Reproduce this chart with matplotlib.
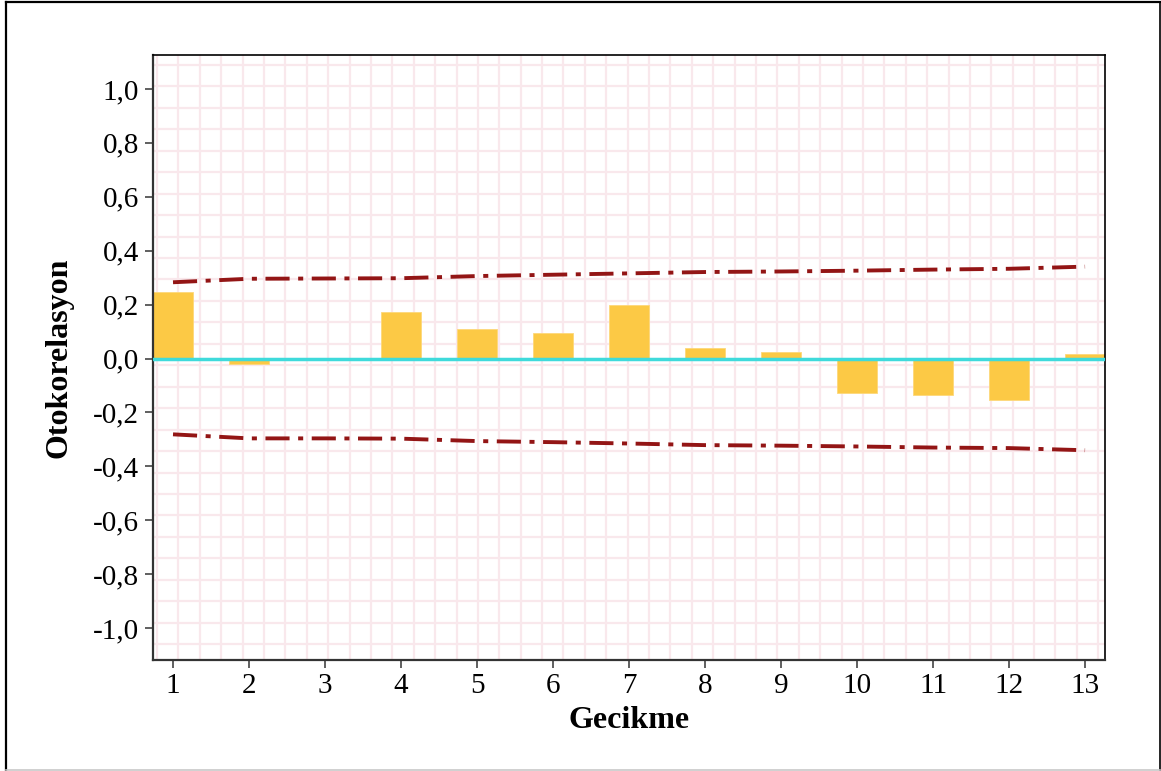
import numpy as np
import matplotlib
matplotlib.use("Agg")
import matplotlib.pyplot as plt
from matplotlib.lines import Line2D

# Autocorrelation values per lag.
lags = [1, 2, 3, 4, 5, 6, 7, 8, 9, 10, 11, 12, 13]
acf = [0.247, -0.021, 0.0, 0.172, 0.109, 0.094, 0.198, 0.040, 0.026,
       -0.126, -0.134, -0.152, 0.016]
# Confidence limits.
upper = [0.283, 0.296, 0.297, 0.298, 0.306, 0.311, 0.316, 0.321, 0.323,
         0.326, 0.330, 0.333, 0.341]
lower = [-0.281, -0.296, -0.296, -0.297, -0.306, -0.310, -0.315, -0.321,
         -0.323, -0.326, -0.330, -0.332, -0.340]
yticks = [-1.0, -0.8, -0.6, -0.4, -0.2, 0.0, 0.2, 0.4, 0.6, 0.8, 1.0]
ytick_labels = [f"{v:.1f}".replace(".", ",") for v in yticks]

plt.rcParams["font.family"] = ["Liberation Serif", "DejaVu Serif"]

fig = plt.figure(figsize=(11.61, 7.71), dpi=100)
ax = fig.add_axes([0.1318, 0.1436, 0.82, 0.7851])

# Pink background grid, drawn in axes fraction.
grid_color = "#f9e8ec"
for gx in np.arange(0.0042, 1.0, 0.02247):
    ax.plot([gx, gx], [0, 1], color=grid_color, lw=1.6, zorder=0,
            transform=ax.transAxes)
for gy in np.arange(0.9835, 0.0, -0.03544):
    ax.plot([0, 1], [gy, gy], color=grid_color, lw=1.6, zorder=0,
            transform=ax.transAxes)

# Bars.
ax.bar(lags, acf, width=0.526, color="#fcc945", edgecolor="#fdd87a",
       linewidth=0.6, zorder=2)

# Zero line.
ax.axhline(0, color="#3fdadb", lw=2.5, zorder=3)

# Confidence limits.
for band in (upper, lower):
    ax.plot(lags, band, color="#931515", lw=2.8, zorder=4,
            dashes=(6.2, 2.2, 1.3, 2.2), dash_capstyle="butt")

ax.set_xlim(0.737, 13.263)
ax.set_ylim(-1.119, 1.126)
ax.set_xticks(lags)
ax.set_xticklabels([str(v) for v in lags], fontsize=21)
ax.set_yticks(yticks)
ax.set_yticklabels(ytick_labels, fontsize=21)
ax.tick_params(axis="both", direction="out", length=6, width=1.2,
               color="#444444")
ax.tick_params(axis="y", pad=4)
ax.tick_params(axis="x", pad=3)

for side in ("left", "bottom"):
    ax.spines[side].set_color("#333333")
    ax.spines[side].set_linewidth(1.6)
for side in ("top", "right"):
    ax.spines[side].set_color("black")
    ax.spines[side].set_linewidth(1.2)

ax.set_xlabel("Gecikme", fontsize=23, fontweight="bold", labelpad=5)
ax.set_ylabel("Otokorelasyon", fontsize=23, fontweight="bold", labelpad=14)

# Figure border.
fig.add_artist(Line2D([6 / 1161, 6 / 1161], [1 / 771, 769 / 771],
                      transform=fig.transFigure, color="black", lw=1.6))
fig.add_artist(Line2D([6 / 1161, 1159.5 / 1161], [769 / 771, 769 / 771],
                      transform=fig.transFigure, color="black", lw=1.6))
fig.add_artist(Line2D([1159.5 / 1161, 1159.5 / 1161], [1 / 771, 769 / 771],
                      transform=fig.transFigure, color="black", lw=1.2))
fig.add_artist(Line2D([6 / 1161, 1159.5 / 1161], [1 / 771, 1 / 771],
                      transform=fig.transFigure, color="#c8c8c8", lw=1.2))

fig.savefig("out.png", dpi=100)
plt.close(fig)
